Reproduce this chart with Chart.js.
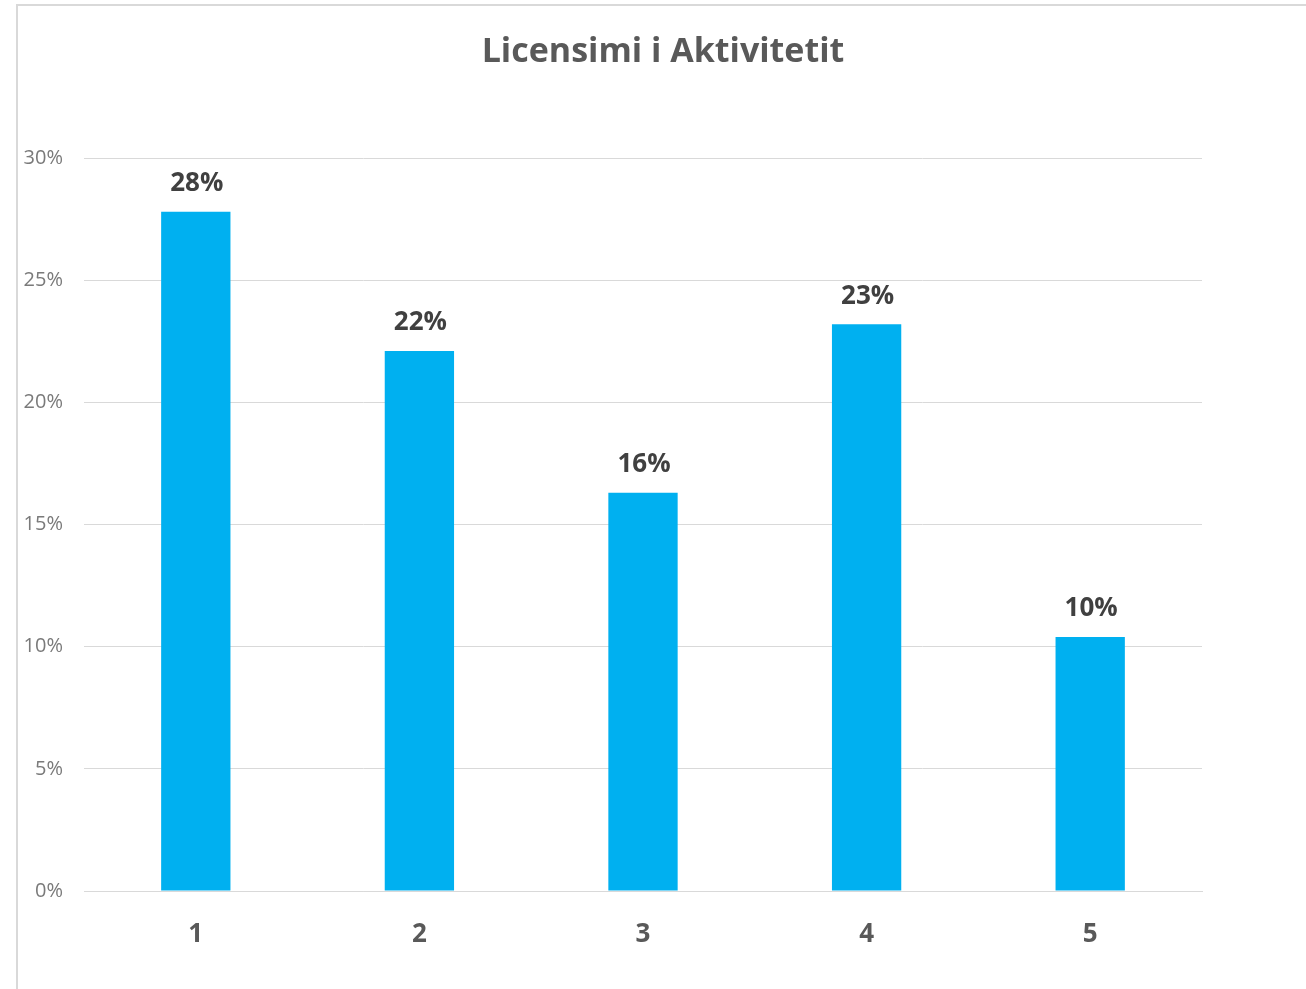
<!DOCTYPE html>
<html>
<head>
<meta charset="utf-8">
<script src="https://cdn.jsdelivr.net/npm/chart.js@4/dist/chart.umd.min.js"></script>
<style>
  html, body { margin: 0; padding: 0; background: #fff; }
  #frame {
    position: absolute; left: 16px; top: 4px; width: 1290px; height: 985px;
    border-left: 2px solid #d9d9d9; border-top: 2px solid #d9d9d9; box-sizing: border-box;
  }
  #box { position: absolute; left: 0; top: 0; width: 1306px; height: 989px; }
</style>
</head>
<body>
<div id="frame"></div>
<div id="box"><canvas id="chart"></canvas></div>
<script>
'use strict';

// values (share of total)
const categories = ['1', '2', '3', '4', '5'];
const shares = [0.278, 0.221, 0.163, 0.232, 0.104];
const yTicks = [0, 0.05, 0.10, 0.15, 0.20, 0.25, 0.30];
const chartTitle = 'Licensimi i Aktivitetit';

const FONT = '"Open Sans", "Liberation Sans", sans-serif';

// percent labels on top of the bars + the title
const barLabels = {
    id: 'barLabels',
    afterDatasetsDraw(chart) {
        const ctx = chart.ctx;
        const meta = chart.getDatasetMeta(0);
        ctx.save();
        ctx.font = 'bold 26px ' + FONT;
        ctx.fillStyle = '#404040';
        ctx.textAlign = 'center';
        ctx.textBaseline = 'bottom';
        meta.data.forEach((bar, i) => {
            ctx.fillText(Math.round(shares[i] * 100) + '%', bar.x + 1, bar.y - 15);
        });

        ctx.font = 'bold 34px ' + FONT;
        ctx.fillStyle = '#595959';
        ctx.textBaseline = 'middle';
        ctx.fillText(chartTitle, 663, 52);
        ctx.restore();
    }
};

new Chart(document.getElementById('chart'), {
    type: 'bar',
    data: {
        labels: categories,
        datasets: [{
            data: shares,
            backgroundColor: '#00b0f0',
            borderWidth: 0,
            categoryPercentage: 1,
            barPercentage: 0.31,
        }]
    },
    options: {
        responsive: true,
        maintainAspectRatio: false,
        animation: false,
        layout: { padding: { top: 158, right: 104, bottom: 0, left: 0 } },
        plugins: {
            legend: { display: false },
            title: { display: false },
            tooltip: { enabled: false },
        },
        scales: {
            x: {
                grid: { display: false },
                border: { color: '#d9d9d9', width: 1 },
                ticks: {
                    padding: 20,
                    color: '#595959',
                    font: { family: FONT, size: 26, weight: 'bold' },
                },
                afterFit(axis) { axis.height = 98; },
            },
            y: {
                min: 0,
                max: 0.3,
                afterBuildTicks(axis) { axis.ticks = yTicks.map(v => ({ value: v })); },
                grid: { color: '#d9d9d9', drawTicks: false },
                border: { display: false },
                ticks: {
                    padding: 21,
                    color: '#7a7a7a',
                    font: { family: FONT, size: 20 },
                    callback: v => Math.round(v * 100) + '%',
                },
                afterFit(axis) { axis.width = 84; },
            }
        }
    },
    plugins: [barLabels]
});
</script>
</body>
</html>
